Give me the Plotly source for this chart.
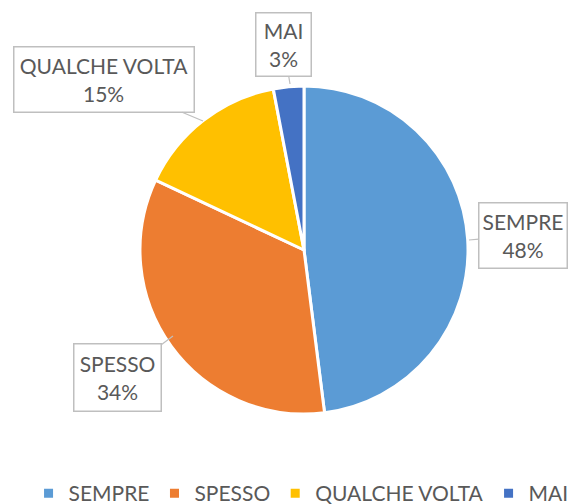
import plotly.graph_objects as go

labels = ["SEMPRE", "SPESSO", "QUALCHE VOLTA", "MAI"]
values = [48, 34, 15, 3]
colors = ["#5B9BD5", "#ED7D31", "#FFC000", "#4472C4"]

W, H = 571, 504
cx, cy, r = 304, 250, 164

fig = go.Figure(go.Pie(
    labels=labels, values=values, sort=False, direction="clockwise", rotation=0,
    marker=dict(colors=colors, line=dict(color="white", width=3)),
    textinfo="none", hoverinfo="label+percent",
    domain=dict(x=[(cx - r) / W, (cx + r) / W], y=[(H - cy - r) / H, (H - cy + r) / H]),
))

# callout boxes: (tip x, tip y, box center x, box center y, box w, box h) in pixels
callouts = {
    "SEMPRE": (469, 240, 523, 235.5, 90, 67),
    "SPESSO": (173, 336, 117.5, 377.5, 89, 69),
    "QUALCHE VOLTA": (203, 121, 104, 79.5, 182, 67),
    "MAI": (290, 84, 283.5, 44.5, 57, 65),
}
total = sum(values)
for lab, val in zip(labels, values):
    tx, ty, bx, by, bw, bh = callouts[lab]
    fig.add_annotation(
        xref="paper", yref="paper", x=tx / W, y=(H - ty) / H,
        axref="pixel", ayref="pixel", ax=bx - tx, ay=by - ty,
        text=f"{lab}<br>{round(val / total * 100)}%",
        showarrow=True, arrowhead=0, arrowwidth=1.2, arrowcolor="#BFBFBF",
        bordercolor="#BFBFBF", borderwidth=1.5, borderpad=0, bgcolor="white",
        width=bw - 3, height=bh - 3,
        font=dict(family="Lato", size=21, color="#595959"),
    )

fig.update_layout(
    width=W, height=H, margin=dict(l=0, r=0, t=0, b=0, autoexpand=False),
    paper_bgcolor="white", plot_bgcolor="white",
    legend=dict(orientation="h", x=0.05, xanchor="left", y=-0.02, yanchor="bottom",
                font=dict(family="Lato", size=21, color="#595959"),
                itemwidth=30, tracegroupgap=0),
)
fig.write_html("out.html", config={"displayModeBar": False},
               post_script="document.body.style.margin='0';document.body.style.overflow='hidden';")
